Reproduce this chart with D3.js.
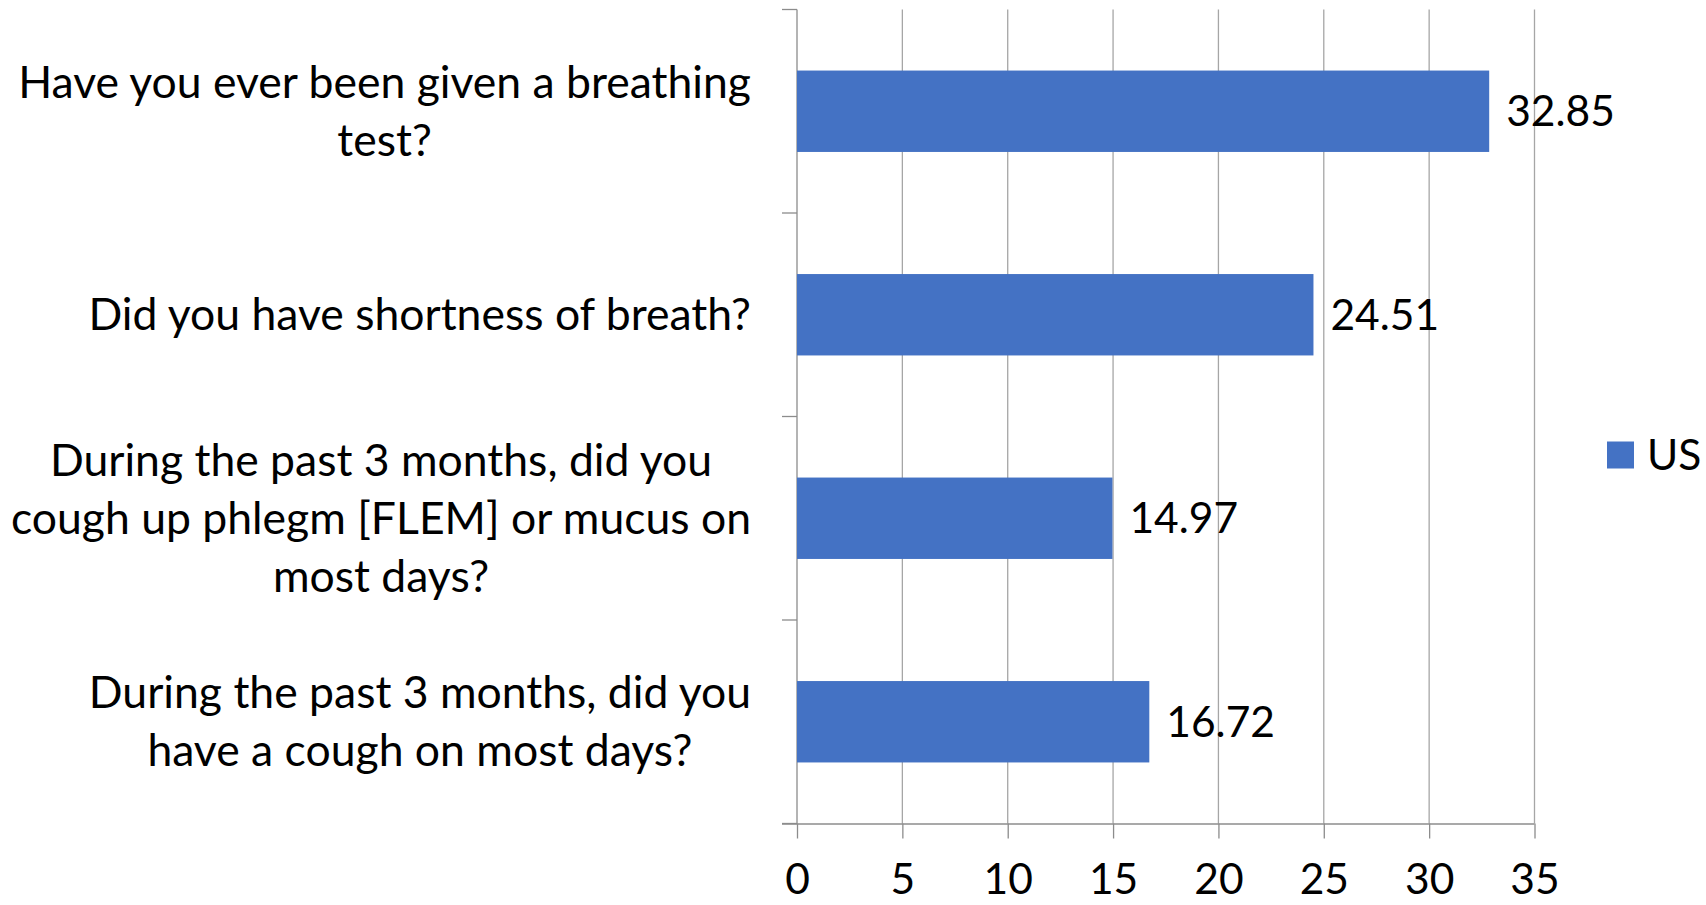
<!DOCTYPE html>
<html lang="en">
<head>
    <meta charset="UTF-8">
    <title>Breathing questions</title>
    <script src="https://d3js.org/d3.v7.min.js"></script>
    <style>
        body { margin: 0; background: #fff; font-family: Lato, "Open Sans", sans-serif; }
        .grid line { stroke: #a6a6a6; stroke-width: 1.3; }
        .axis path, .axis line { stroke: #8c8c8c; stroke-width: 1.3; fill: none; }
        text { fill: #000; }
    </style>
</head>
<body>
    <div id="chart"></div>
    <script>
        // category labels, one array of lines per bar (top to bottom)
        const categories = [
            ["Have you ever been given a breathing", "test?"],
            ["Did you have shortness of breath?"],
            ["During the past 3 months, did you", "cough up phlegm [FLEM] or mucus on", "most days?"],
            ["During the past 3 months, did you", "have a cough on most days?"]
        ];
        const values = [32.85, 24.51, 14.97, 16.72];
        const xTicks = [0, 5, 10, 15, 20, 25, 30, 35];
        const seriesName = "US";

        const W = 1706, H = 905;
        const margin = { top: 9.5, left: 797, right: 171.5, bottom: 81.5 };
        const width = W - margin.left - margin.right;
        const height = H - margin.top - margin.bottom;
        const catFont = 44.5, numFont = 42.5;
        const color = "#4472C4";

        const svg = d3.select("#chart").append("svg")
            .attr("width", W)
            .attr("height", H);

        const g = svg.append("g")
            .attr("transform", `translate(${margin.left},${margin.top})`);

        const x = d3.scaleLinear().domain([0, 35]).range([0, width]);
        const y = d3.scaleBand().domain(d3.range(categories.length)).range([0, height])
            .paddingInner(0.6).paddingOuter(0.3);
        const yb = d3.scaleLinear().domain([0, categories.length]).range([0, height]);

        // vertical grid lines
        g.append("g").attr("class", "grid")
            .selectAll("line").data(xTicks.slice(1)).enter().append("line")
            .attr("x1", d => x(d)).attr("x2", d => x(d))
            .attr("y1", 0).attr("y2", height);

        // bottom axis
        const xAxis = g.append("g").attr("class", "axis")
            .attr("transform", `translate(0,${height})`)
            .call(d3.axisBottom(x).tickValues(xTicks).tickSize(15).tickSizeOuter(0).tickPadding(25));
        xAxis.select(".domain").attr("d", `M-15,0.5H${width}`);
        xAxis.selectAll("text").attr("font-size", numFont).attr("font-family", "Lato, sans-serif").attr("fill", "#000");

        // left axis with ticks at category boundaries
        const yAxis = g.append("g").attr("class", "axis");
        yAxis.append("line").attr("x1", 0).attr("x2", 0).attr("y1", 0).attr("y2", height);
        yAxis.selectAll(".tk").data(d3.range(categories.length + 1)).enter().append("line")
            .attr("x1", -15).attr("x2", 0)
            .attr("y1", d => yb(d)).attr("y2", d => yb(d));

        // bars
        g.selectAll(".bar").data(values).enter().append("rect")
            .attr("class", "bar")
            .attr("x", 0)
            .attr("y", (d, i) => y(i))
            .attr("width", d => x(d))
            .attr("height", y.bandwidth())
            .attr("fill", color);

        // value labels
        g.selectAll(".val").data(values).enter().append("text")
            .attr("x", d => x(d) + 17)
            .attr("y", (d, i) => y(i) + y.bandwidth() / 2)
            .attr("dy", "0.35em")
            .attr("font-size", numFont)
            .text(d => d.toFixed(2));

        // category labels: each block centred on its widest line, block right-aligned
        const lineH = 57.7;
        const rightEdge = -46;
        categories.forEach((lines, i) => {
            const t = g.append("text")
                .attr("font-size", catFont)
                .attr("text-anchor", "middle");
            const cy = y(i) + y.bandwidth() / 2;
            const spans = lines.map((ln, k) => t.append("tspan")
                .attr("y", cy + (k - (lines.length - 1) / 2) * lineH)
                .attr("dy", "0.35em")
                .text(ln));
            const maxW = d3.max(spans, s => s.node().getComputedTextLength());
            spans.forEach(s => s.attr("x", rightEdge - maxW / 2));
        });

        // legend
        const lg = svg.append("g").attr("transform", "translate(1607,455)");
        lg.append("rect").attr("x", 0).attr("y", -13.5).attr("width", 27).attr("height", 27).attr("fill", color);
        lg.append("text").attr("x", 40).attr("y", 0).attr("dy", "0.35em")
            .attr("font-size", numFont).text(seriesName);
    </script>
</body>
</html>
